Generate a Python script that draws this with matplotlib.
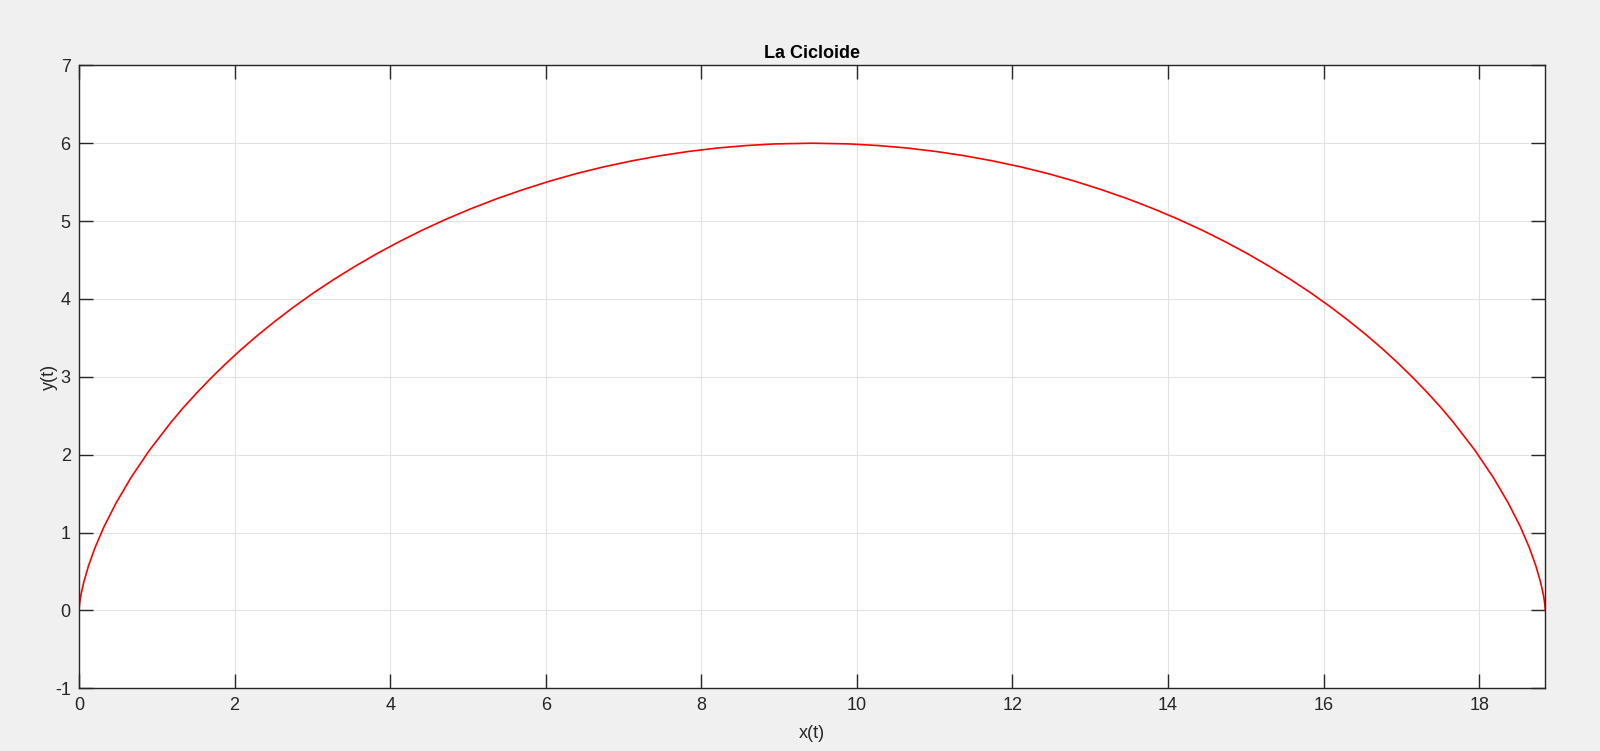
import matplotlib.pyplot as plt

# points, left half up to the top, then the right half
x_left = [0.0, 0.001, 0.008, 0.026, 0.062, 0.120, 0.205, 0.322, 0.476, 0.668,
          0.903, 1.182, 1.339, 1.508, 1.688, 1.879, 2.083, 2.298, 2.525, 2.763,
          3.012, 3.272, 3.543, 3.823, 4.115, 4.416, 4.726, 5.044, 5.371, 5.705,
          6.048, 6.398, 6.748, 7.105, 7.468, 7.835, 8.204, 8.577, 8.950, 9.425]
y_left = [0.0, 0.023, 0.093, 0.208, 0.367, 0.567, 0.805, 1.077, 1.379, 1.706,
          2.054, 2.416, 2.602, 2.788, 2.975, 3.162, 3.350, 3.535, 3.718, 3.899,
          4.076, 4.248, 4.416, 4.578, 4.735, 4.885, 5.027, 5.161, 5.287, 5.403,
          5.512, 5.611, 5.697, 5.773, 5.839, 5.894, 5.938, 5.970, 5.991, 6.0]
x_right = [9.900, 10.273, 10.646, 11.015, 11.382, 11.745, 12.102, 12.452,
           12.802, 13.145, 13.479, 13.806, 14.124, 14.434, 14.735, 15.027,
           15.307, 15.578, 15.838, 16.087, 16.325, 16.552, 16.767, 16.971,
           17.162, 17.342, 17.511, 17.668, 17.947, 18.182, 18.374, 18.528,
           18.645, 18.730, 18.788, 18.824, 18.842, 18.849, 18.850]
y_right = [5.991, 5.970, 5.938, 5.894, 5.839, 5.773, 5.697, 5.611, 5.512,
           5.403, 5.287, 5.161, 5.027, 4.885, 4.735, 4.578, 4.416, 4.248,
           4.076, 3.899, 3.718, 3.535, 3.350, 3.162, 2.975, 2.788, 2.602,
           2.416, 2.054, 1.706, 1.379, 1.077, 0.805, 0.567, 0.367, 0.208,
           0.093, 0.023, 0.0]
x_t = x_left + x_right
y_t = y_left + y_right

plt.rcParams['font.family'] = ['Liberation Sans', 'DejaVu Sans']
plt.rcParams['axes.unicode_minus'] = False

fig = plt.figure(figsize=(16, 7.51), dpi=100, facecolor='#f0f0f0')
ax = fig.add_axes([0.0494, 0.0835, 0.9164, 0.8295])
ax.plot(x_t, y_t, color='#ff0000', linewidth=1.2)

ax.set_xlim(0, 18.8496)
ax.set_ylim(-1, 7)
ax.set_xticks(range(0, 19, 2))
ax.set_yticks(range(-1, 8))
ax.grid(True, color='#e2e2e2', linewidth=0.8)
ax.set_axisbelow(True)
ax.tick_params(direction='in', length=10, width=1, top=True, right=True,
               labelsize=13, colors='#262626', pad=6)
for s in ax.spines.values():
    s.set_color('#262626')
    s.set_linewidth(1.0)

ax.set_xlabel('x(t)', fontsize=13, color='#262626', labelpad=8)
ax.set_ylabel('y(t)', fontsize=13, color='#262626', labelpad=-2)
ax.set_title('La Cicloide', fontsize=13, fontweight='bold', color='black', pad=5)

plt.savefig('out.png', dpi=100, facecolor=fig.get_facecolor())
